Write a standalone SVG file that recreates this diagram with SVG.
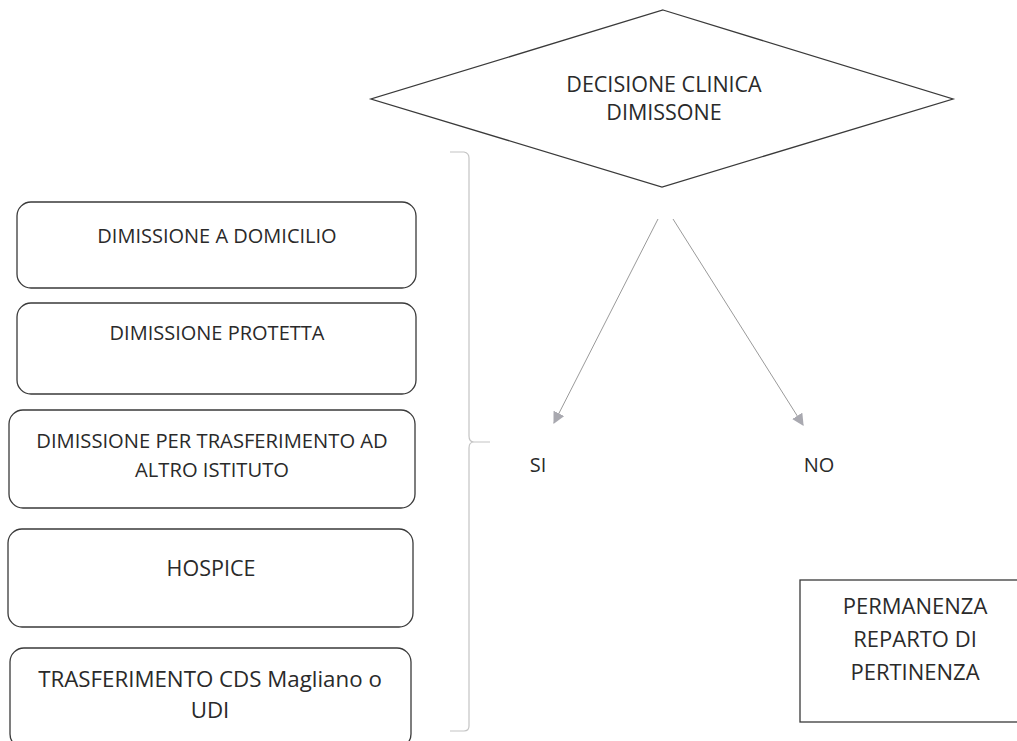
<svg xmlns="http://www.w3.org/2000/svg" width="1017" height="741" viewBox="0 0 1017 741">
<defs>
<marker id="arr" viewBox="0 0 10 10" refX="9" refY="5" markerWidth="12" markerHeight="12" markerUnits="userSpaceOnUse" orient="auto">
<path d="M0,0 L10,5 L0,10 z" fill="#a9a9b0"/>
</marker>
<style>
text{font-family:"Open Sans","Liberation Sans",sans-serif;fill:#2a2a2a;text-anchor:middle}
.box{fill:#fff;stroke:#3a3a3a;stroke-width:1.3}
.c{fill:none;stroke:#9a9a9a;stroke-width:1}
.br{fill:none;stroke:#c4c4c4;stroke-width:1.2}
</style>
</defs>
<rect width="1017" height="741" fill="#fff"/>
<g id="decisione">
<polygon class="box" points="663,10 953,99 662,187 371,99"/>
<text x="664" y="92" font-size="21.5">DECISIONE CLINICA</text>
<text x="664" y="120" font-size="21.5">DIMISSONE</text>
</g>
<g id="domicilio">
<rect class="box" x="17" y="202" width="399" height="86" rx="14"/>
<text x="217" y="243" font-size="20">DIMISSIONE A DOMICILIO</text>
</g>
<g id="protetta">
<rect class="box" x="17" y="303" width="399" height="91" rx="14"/>
<text x="217" y="340" font-size="20">DIMISSIONE PROTETTA</text>
</g>
<g id="trasferimento">
<rect class="box" x="9" y="410" width="406" height="98" rx="14"/>
<text x="212" y="448" font-size="20.2">DIMISSIONE PER TRASFERIMENTO AD</text>
<text x="212" y="477" font-size="20.2">ALTRO ISTITUTO</text>
</g>
<g id="hospice">
<rect class="box" x="8" y="529" width="405" height="98" rx="14"/>
<text x="211" y="576" font-size="21.5">HOSPICE</text>
</g>
<g id="cds">
<rect class="box" x="10" y="648" width="401" height="100" rx="14"/>
<text x="210" y="687" font-size="22.3">TRASFERIMENTO CDS Magliano o</text>
<text x="210" y="718" font-size="22.3">UDI</text>
</g>
<g id="si"><text x="538" y="472" font-size="20">SI</text></g>
<g id="no"><text x="819" y="472" font-size="20">NO</text></g>
<g id="permanenza">
<rect class="box" x="800" y="580" width="230" height="142"/>
<text x="915" y="614" font-size="22">PERMANENZA</text>
<text x="915" y="647" font-size="22">REPARTO DI</text>
<text x="915" y="680" font-size="22">PERTINENZA</text>
</g>
<g id="connectors">
<path class="br" d="M450,152 L464,152 Q469,153 469,158 L469,436 Q469,442 474,442 L490,442 M474,442 Q469,442 469,448 L469,726 Q469,731 464,731 L450,731"/>
<line class="c" x1="658" y1="219" x2="554" y2="423" marker-end="url(#arr)"/>
<line class="c" x1="673" y1="219" x2="803" y2="425" marker-end="url(#arr)"/>
</g>
</svg>
